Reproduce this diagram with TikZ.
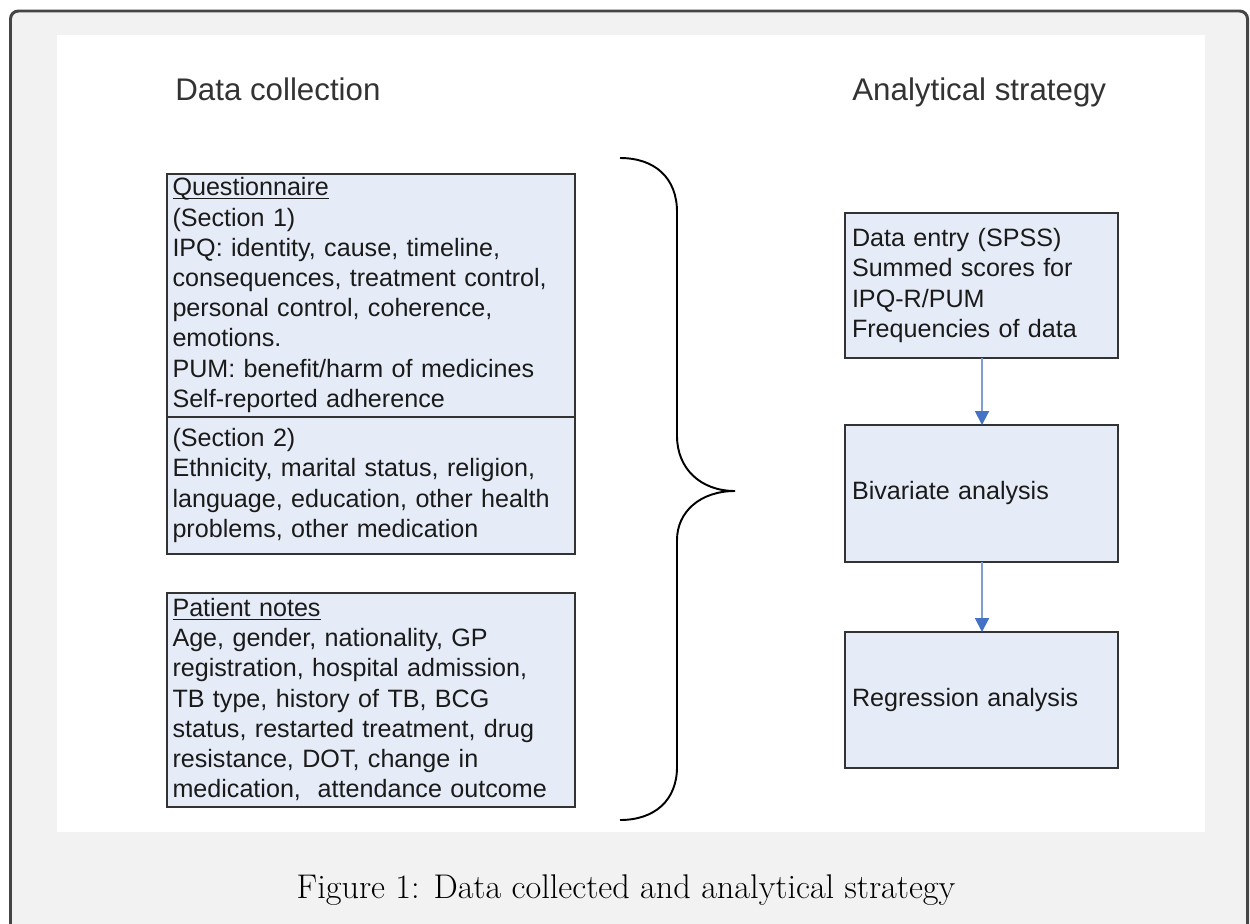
\documentclass[tikz,border=0pt]{standalone}
\usepackage{fontspec}
\newfontfamily\arialf{Liberation Sans}
\usetikzlibrary{arrows.meta}
\definecolor{framegray}{HTML}{454545}
\definecolor{pagegray}{HTML}{F2F2F2}
\definecolor{boxfill}{HTML}{E6ECF7}
\definecolor{boxline}{HTML}{333333}
\definecolor{txt}{HTML}{1A1A1A}
\definecolor{arrline}{HTML}{7E9DD2}
\definecolor{arrhead}{HTML}{4472C4}
\tikzset{
  infobox/.style={draw=boxline, line width=1.1pt, fill=boxfill, anchor=north west,
    outer sep=0pt, inner ysep=0pt, align=left, text=txt,
    font=\arialf\fontsize{14.3}{17.2}\selectfont},
  leftbox/.style={infobox, inner xsep=1.1mm, text width=79.4mm},
  rightbox/.style={infobox, inner xsep=1.4mm, text width=51.8mm},
  heading/.style={anchor=base west, inner sep=0pt, text=black!80,
    font=\arialf\fontsize{17.8}{20}\selectfont},
  flow/.style={draw=arrline, line width=1.1pt,
    -{Triangle[length=2.8mm,width=2.8mm,color=arrhead]}},
  bracepath/.style={draw=black, line width=1.1pt}
}
\newcommand{\ulword}[1]{\underline{\smash{#1}}\vphantom{Qy}}
\begin{document}
\begin{tikzpicture}[x=0.02cm,y=-0.02cm]
\useasboundingbox (0,0) rectangle (1250,923);
\begin{scope}
\clip (0,0) rectangle (1250,923);
\draw[framegray, line width=1.7pt, fill=pagegray, rounded corners=4.5pt] (10.5,11) rectangle (1247.5,960);
\end{scope}
\fill[white] (57,35) rectangle (1205,832);

\node[heading] (h1) at (175,100.5) {Data collection};
\node[heading] (h2) at (852,100.5) {Analytical strategy};

\node[leftbox, minimum height=48.6mm] (q1) at (167,174)
  {\ulword{Questionnaire}\\(Section 1)\\IPQ: identity, cause, timeline,\\consequences, treatment control,\\personal control, coherence,\\emotions.\\PUM: benefit/harm of medicines\\Self-reported adherence};
\node[leftbox, minimum height=27.4mm] (q2) at (167,417)
  {(Section 2)\\Ethnicity, marital status, religion,\\language, education, other health\\problems, other medication};
\node[leftbox, minimum height=42.8mm] (pn) at (167,593)
  {\ulword{Patient notes}\\Age, gender, nationality, GP\\registration, hospital admission,\\TB type, history of TB, BCG\\status, restarted treatment, drug\\resistance, DOT, change in\\medication,\ \ attendance outcome};

\node[rightbox, minimum height=29mm] (de) at (845,213)
  {Data entry (SPSS)\\Summed scores for\\IPQ-R/PUM\\Frequencies of data};
\node[rightbox, minimum height=27.4mm] (bv) at (845,425)
  {Bivariate analysis};
\node[rightbox, minimum height=27.2mm] (rg) at (845,632)
  {Regression analysis};

\draw[flow] (de.south -| 982,0) -- (bv.north -| 982,0);
\draw[flow] (bv.south -| 982,0) -- (rg.north -| 982,0);

\draw[bracepath] (620,158) .. controls (655,158) and (677,178) .. (677,212)
  -- (677,436) .. controls (677,468) and (700,491) .. (735,491)
  .. controls (700,491) and (677,512) .. (677,540)
  -- (677,767) .. controls (677,800) and (655,820) .. (620,820);

\node[anchor=base, inner sep=0pt, font=\fontsize{19.5}{22}\selectfont] (cap) at (626,898)
  {Figure 1: Data collected and analytical strategy};
\end{tikzpicture}
\end{document}
